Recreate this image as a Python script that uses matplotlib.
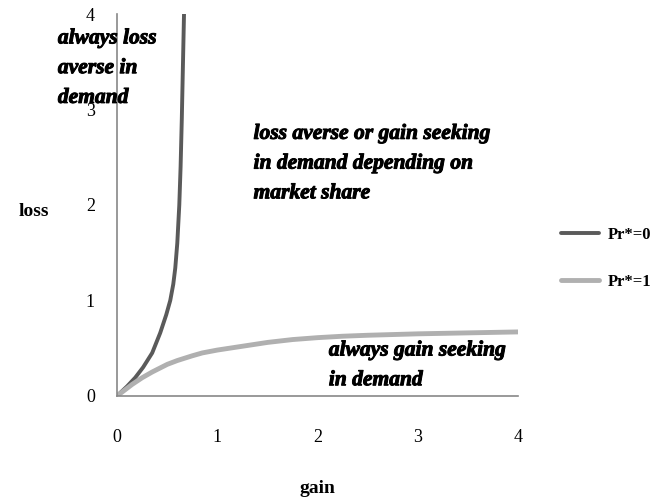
import matplotlib.pyplot as plt
import matplotlib.patheffects as pe

# curves
dark_x = [0, 0.05, 0.10, 0.18, 0.26, 0.35, 0.43, 0.49, 0.53, 0.56, 0.58, 0.60,
          0.62, 0.633, 0.645, 0.655, 0.663, 0.667]
dark_y = [0, 0.05, 0.10, 0.19, 0.30, 0.45, 0.66, 0.85, 1.00, 1.17, 1.34, 1.60,
          2.00, 2.40, 2.90, 3.40, 3.80, 4.00]

light_x = [0, 0.05, 0.10, 0.15, 0.25, 0.35, 0.50, 0.60, 0.75, 0.85, 1.00, 1.25,
           1.50, 1.75, 2.00, 2.25, 2.50, 3.00, 3.50, 4.00]
light_y = [0, 0.04, 0.08, 0.12, 0.19, 0.25, 0.33, 0.37, 0.42, 0.45, 0.48, 0.52,
           0.56, 0.59, 0.61, 0.625, 0.635, 0.65, 0.66, 0.67]

ticks = [0, 1, 2, 3, 4]
labels = ['Pr*=0', 'Pr*=1']

plt.rcParams['font.family'] = 'Liberation Serif'

fig = plt.figure(figsize=(6.69, 5.03), dpi=100)
ax = fig.add_axes([0.175, 0.213, 0.600, 0.759])

ax.plot(dark_x, dark_y, color='#5a5a5a', lw=2.8, label=labels[0],
        solid_joinstyle='round', solid_capstyle='round')
ax.plot(light_x, light_y, color='#b0b0b0', lw=3.5, label=labels[1],
        solid_joinstyle='round', solid_capstyle='round')

ax.set_xlim(0, 4)
ax.set_ylim(0, 4)
ax.set_xticks(ticks)
ax.set_yticks(ticks)
ax.tick_params(length=0, labelsize=13)
ax.tick_params(axis='x', pad=24)
ax.tick_params(axis='y', pad=16)
for s in ['top', 'right']:
    ax.spines[s].set_visible(False)
for s in ['left', 'bottom']:
    ax.spines[s].set_color('#888888')
    ax.spines[s].set_linewidth(1.2)

ax.set_xlabel('gain', fontsize=14, fontweight='bold', labelpad=24)
ax.set_ylabel('loss', fontsize=14, fontweight='bold', rotation=0, va='center', ha='center')
ax.yaxis.set_label_coords(-0.207, 0.484)

fx = [pe.withStroke(linewidth=0.7, foreground='black')]
kw = dict(fontsize=15.5, fontstyle='italic', fontweight='bold', ha='left', va='top',
          linespacing=1.65, path_effects=fx)
ax.text(-0.59, 3.85, 'always loss\naverse in\ndemand', clip_on=False, **kw)
ax.text(1.36, 2.85, 'loss averse or gain seeking\nin demand depending on\nmarket share', **kw)
ax.text(2.11, 0.58, 'always gain seeking\nin demand', **kw)

leg = ax.legend(loc='center left', bbox_to_anchor=(1.105, 0.36), frameon=False,
                prop={'family': 'Liberation Serif', 'weight': 'bold', 'size': 12},
                handlelength=2.3, labelspacing=1.9, borderpad=0, borderaxespad=0,
                handletextpad=0.5)

fig.savefig('out.png', dpi=100)
